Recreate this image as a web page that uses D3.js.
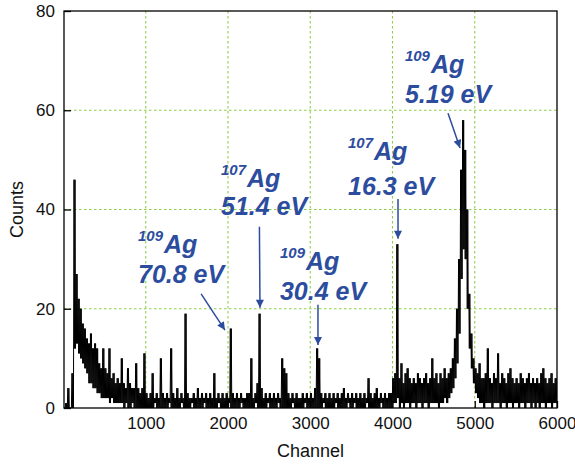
<!DOCTYPE html>
<html>
<head>
<meta charset="utf-8">
<script src="https://cdn.jsdelivr.net/npm/d3@7"></script>
<style>
body{margin:0;background:#fff}
svg{font-family:"Liberation Sans",Arial,sans-serif}
</style>
</head>
<body>
<svg id="chart" width="575" height="465"></svg>
<script>
// spectrum, 25 channels per bin: top and bottom of the trace in each bin
const binWidth = 25
const hiCounts = [
  0, 1, 4, 0, 7, 46, 27, 22, 20, 17,
  16, 14, 13, 15, 12, 13, 12, 9, 8, 12,
  8, 7, 12, 6, 7, 5, 6, 5, 10, 5,
  4, 8, 5, 4, 4, 9, 4, 3, 4, 11,
  3, 2, 3, 7, 2, 3, 2, 10, 3, 2,
  3, 2, 12, 3, 2, 4, 2, 3, 2, 19,
  3, 2, 2, 3, 2, 4, 2, 3, 2, 3,
  2, 3, 2, 7, 2, 3, 2, 3, 2, 3,
  2, 16, 3, 2, 3, 2, 3, 2, 2, 3,
  3, 10, 2, 3, 5, 19, 4, 2, 3, 2,
  3, 2, 3, 2, 3, 2, 10, 8, 7, 3,
  2, 3, 2, 3, 2, 2, 3, 2, 3, 2,
  3, 2, 4, 12, 10, 3, 2, 3, 2, 3,
  2, 3, 2, 3, 2, 3, 4, 2, 3, 2,
  3, 2, 3, 2, 3, 2, 3, 2, 6, 3,
  2, 3, 4, 2, 3, 2, 3, 2, 3, 3,
  6, 7, 33, 6, 9, 5, 7, 8, 6, 5,
  6, 5, 7, 6, 5, 6, 7, 5, 6, 10,
  6, 7, 5, 7, 6, 8, 6, 7, 8, 10,
  14, 20, 30, 48, 58, 52, 40, 23, 15, 10,
  8, 7, 9, 6, 6, 7, 12, 6, 5, 7,
  6, 11, 5, 7, 6, 5, 7, 8, 6, 5,
  6, 5, 7, 6, 5, 6, 7, 5, 6, 5,
  6, 5, 7, 8, 6, 5, 6, 7, 5, 6
]
const loCounts = [
  0, 0, 0, 0, 0, 12, 13, 11, 10, 9,
  8, 7, 5, 5, 4, 4, 3, 3, 2, 2,
  2, 2, 1, 2, 1, 1, 1, 1, 1, 0,
  1, 0, 0, 1, 0, 0, 0, 0, 0, 0,
  0, 0, 0, 0, 1, 0, 0, 0, 0, 0,
  0, 1, 0, 0, 0, 0, 0, 1, 0, 0,
  0, 0, 1, 0, 0, 0, 0, 0, 1, 0,
  0, 0, 0, 0, 0, 1, 0, 0, 0, 0,
  1, 0, 0, 0, 0, 0, 1, 0, 0, 0,
  0, 0, 0, 1, 0, 0, 0, 0, 0, 1,
  0, 0, 0, 0, 1, 0, 0, 0, 0, 0,
  0, 1, 0, 0, 0, 0, 0, 1, 0, 0,
  0, 0, 0, 0, 0, 0, 1, 0, 0, 0,
  0, 0, 1, 0, 0, 0, 0, 0, 1, 0,
  0, 1, 0, 0, 0, 0, 0, 1, 0, 0,
  0, 0, 0, 0, 1, 0, 0, 0, 0, 0,
  1, 1, 2, 0, 1, 0, 1, 1, 0, 1,
  1, 0, 1, 1, 0, 1, 1, 0, 1, 1,
  1, 1, 0, 1, 1, 2, 1, 2, 3, 4,
  6, 9, 15, 26, 32, 30, 20, 12, 8, 5,
  3, 2, 1, 1, 0, 1, 1, 1, 0, 1,
  1, 1, 0, 1, 1, 0, 1, 1, 0, 1,
  1, 0, 1, 1, 0, 1, 1, 0, 1, 0,
  1, 0, 1, 1, 0, 1, 1, 0, 1, 1
]

const xTicks = [1000, 2000, 3000, 4000, 5000, 6000]
const yTicks = [0, 20, 40, 60, 80]
const xGrid = [1000, 2000, 3000, 4000, 5000]
const yGrid = [20, 40, 60]

// peak labels
const isotopes = ['109', '107', '109', '107', '109']
const energies = ['70.8 eV', '51.4 eV', '30.4 eV', '16.3 eV', '5.19 eV']
const tipChannel = [1963, 2389, 3094, 4067, 4821]
const tipCounts = [15.7, 20.2, 12.7, 34.1, 52.4]
const tailChannel = [1673, 2382, 3094, 4067, 4675]
const tailCounts = [23, 36.5, 20.8, 42.1, 59.4]
const noteChannel = [906, 1915, 2632, 3459, 4151]
const isoCounts = [31.2, 44.5, 27.8, 50.0, 67.5]
const energyCounts = [25.2, 38.9, 21.8, 42.9, 61.5]

let svg = d3.select("#chart")
let mLeft = 64, mRight = 557, mTop = 11, mBottom = 408
let blue = "#2c4c9e"

let x = d3.scaleLinear().domain([0, 6000]).range([mLeft - 0.5, mRight])
let y = d3.scaleLinear().domain([0, 80]).range([mBottom, mTop])

// grid
svg.append('g').selectAll('line')
    .data(xGrid).enter().append('line')
    .attr('x1', d => x(d)).attr('x2', d => x(d))
    .attr('y1', mTop).attr('y2', mBottom)
    .attr('stroke', '#8ccf4a').attr('stroke-width', 1.1)
    .attr('stroke-dasharray', '2.5,2.5')
svg.append('g').selectAll('line')
    .data(yGrid).enter().append('line')
    .attr('x1', mLeft).attr('x2', mRight)
    .attr('y1', d => y(d)).attr('y2', d => y(d))
    .attr('stroke', '#8ccf4a').attr('stroke-width', 1.1)
    .attr('stroke-dasharray', '2.5,2.5')

// spectrum: trace runs up and down between top and bottom of each bin
let pts = []
hiCounts.forEach((h, i) => {
    let c = i * binWidth
    pts.push([c + 3, h])
    pts.push([c + 9, loCounts[i]])
    pts.push([c + 15, h])
    pts.push([c + 21, loCounts[i]])
})
svg.append('clipPath').attr('id', 'plot')
    .append('rect').attr('x', mLeft).attr('y', mTop)
    .attr('width', mRight - mLeft).attr('height', mBottom - mTop)

svg.append('path')
    .datum(pts)
    .attr('clip-path', 'url(#plot)')
    .attr('fill', 'none')
    .attr('stroke', '#000')
    .attr('stroke-width', 1)
    .attr('d', d3.line().x(d => x(d[0])).y(d => y(d[1])))

// axes
let yAxis = d3.axisLeft(y).tickValues(yTicks).tickSize(-7).tickPadding(9)
let xAxis = d3.axisBottom(x).tickValues(xTicks).tickFormat(d3.format('d')).tickSize(-7).tickPadding(9)

let ya = svg.append('g').attr('transform', 'translate(' + mLeft + ',0)').call(yAxis)
let xa = svg.append('g').attr('transform', 'translate(0,' + mBottom + ')').call(xAxis)
;[ya, xa].forEach(a => {
    a.select('.domain').remove()
    a.selectAll('line').attr('stroke', '#000').attr('stroke-width', 1.3)
    a.selectAll('text').attr('font-size', 17).attr('fill', '#111')
        .attr('font-family', '"Liberation Sans",Arial,sans-serif')
})

svg.append('rect')
    .attr('x', mLeft).attr('y', mTop)
    .attr('width', mRight - mLeft).attr('height', mBottom - mTop)
    .attr('fill', 'none').attr('stroke', '#000').attr('stroke-width', 1.3)

svg.append('text')
    .attr('x', (mLeft + mRight) / 2).attr('y', 457)
    .attr('text-anchor', 'middle').attr('font-size', 18).attr('fill', '#111')
    .text('Channel')
svg.append('text')
    .attr('transform', 'translate(23,' + ((mTop + mBottom) / 2) + ') rotate(-90)')
    .attr('text-anchor', 'middle').attr('font-size', 18).attr('fill', '#111')
    .text('Counts')

// arrows and labels
svg.append('defs').append('marker')
    .attr('id', 'head').attr('viewBox', '0 0 10 10')
    .attr('refX', 10).attr('refY', 5)
    .attr('markerUnits', 'userSpaceOnUse')
    .attr('markerWidth', 9).attr('markerHeight', 8)
    .attr('orient', 'auto')
    .append('path').attr('d', 'M0,0L10,5L0,10z').attr('fill', blue)

let notes = svg.append('g').selectAll('g')
    .data(isotopes).enter().append('g')

notes.append('line')
    .attr('x1', (d, i) => x(tailChannel[i])).attr('y1', (d, i) => y(tailCounts[i]))
    .attr('x2', (d, i) => x(tipChannel[i])).attr('y2', (d, i) => y(tipCounts[i]))
    .attr('stroke', blue).attr('stroke-width', 1.5)
    .attr('marker-end', 'url(#head)')

let iso = notes.append('text')
    .attr('x', (d, i) => x(noteChannel[i]))
    .attr('y', (d, i) => y(isoCounts[i]))
    .attr('fill', blue).attr('font-weight', 'bold').attr('font-style', 'italic')
iso.append('tspan').attr('font-size', 15).attr('dy', -12).text(d => d)
iso.append('tspan').attr('font-size', 25).attr('dy', 12).attr('dx', 1).text('Ag')

notes.append('text')
    .attr('x', (d, i) => x(noteChannel[i]))
    .attr('y', (d, i) => y(energyCounts[i]))
    .attr('fill', blue).attr('font-weight', 'bold').attr('font-style', 'italic')
    .attr('font-size', 25)
    .text((d, i) => energies[i])
</script>
</body>
</html>
